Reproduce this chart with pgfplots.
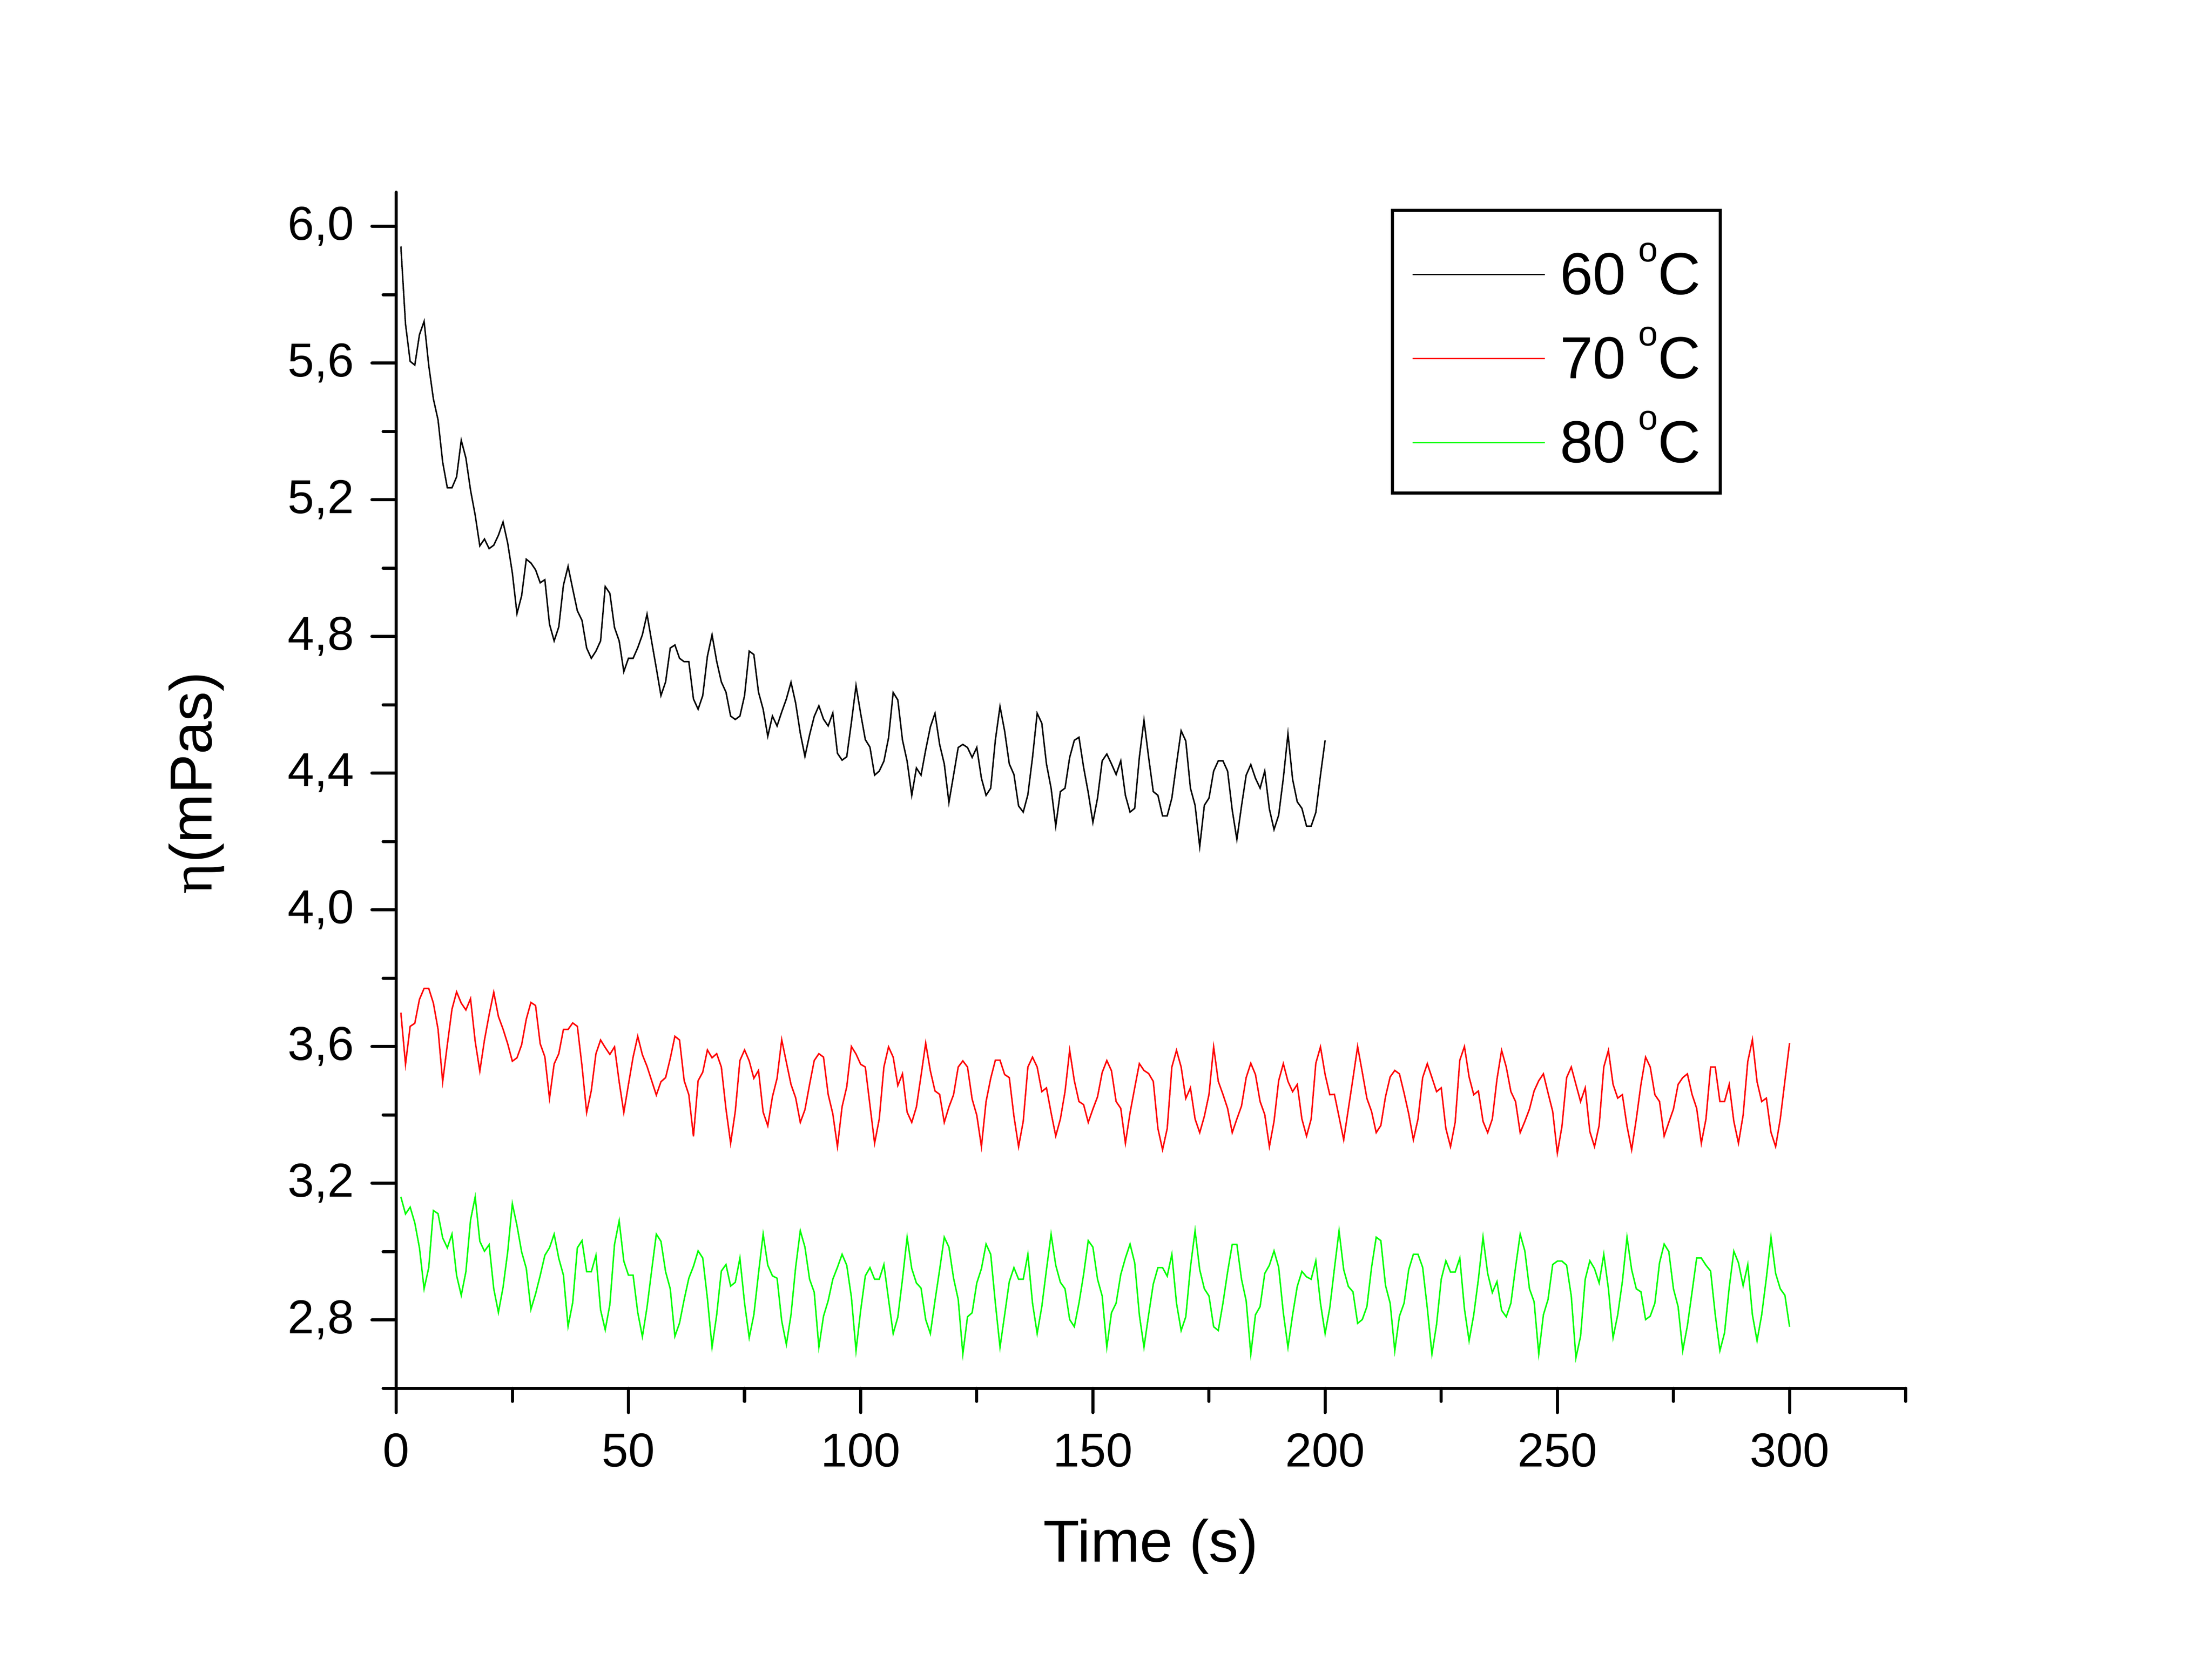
\documentclass[border=0pt]{standalone}
\usepackage{fontspec}
\setmainfont{Liberation Sans}
\newfontfamily\serifgreek{Liberation Serif}
\usepackage{pgfplots}
\pgfplotsset{compat=1.18}
\definecolor{cblack}{RGB}{0,0,0}
\definecolor{cred}{RGB}{255,0,0}
\definecolor{cgreen}{RGB}{0,255,0}
\newcommand{\degC}{\hspace{2.6pt}\raisebox{6.7pt}{\fontsize{7.2}{8}\selectfont o}C}
\begin{document}
\begin{tikzpicture}
\path[use as bounding box] (0,0) rectangle (16cm,12.048cm);
\begin{axis}[
  at={(2.866cm,2.006cm)}, anchor=south west,
  scale only axis, width=10.918cm, height=8.652cm,
  xmin=0, xmax=325, ymin=2.6, ymax=6.1,
  axis x line*=bottom, axis y line*=left,
  axis line style={line width=0.64pt, line cap=round},
  tick align=outside,
  xtick={0,50,100,150,200,250,300},
  minor xtick={25,75,125,175,225,275,325},
  ytick={2.8,3.2,3.6,4.0,4.4,4.8,5.2,5.6,6.0},
  minor ytick={2.6,3.0,3.4,3.8,4.2,4.6,5.0,5.4,5.8},
  major tick length=5pt, minor tick length=2.7pt,
  every tick/.style={line width=0.64pt, black, line cap=round},
  /pgf/number format/assume math mode=true,
  yticklabel style={/pgf/number format/fixed, /pgf/number format/fixed zerofill, /pgf/number format/precision=1, /pgf/number format/use comma, anchor=east},
  ticklabel style={font=\fontsize{9.8}{11}\selectfont, inner sep=0pt},
  xticklabel style={anchor=north},
  xticklabel shift=4.1pt,
  yticklabel shift=3.5pt,
  xlabel={Time (s)},
  xlabel style={at={(axis description cs:0.5,-0.1451)}, anchor=base, inner sep=0pt, font=\fontsize{12.2}{14}\selectfont},
  ylabel={{\serifgreek η}(mPas)},
  ylabel style={at={(axis description cs:-0.1223,0.506)}, anchor=base, inner sep=0pt, font=\fontsize{12.2}{14}\selectfont},
  legend style={at={(axis description cs:0.6589,0.9861)}, anchor=north west,
    draw=black, line width=0.64pt, inner xsep=4pt, inner ysep=6.3pt,
    row sep=6.3pt, column sep=3.0pt,
    font=\fontsize{12.2}{14}\selectfont,
    nodes={inner sep=0pt, text height=11pt, text depth=0pt}},
  legend cell align=left,
  legend image code/.code={\draw[#1] (0pt,-1.4pt) -- (27.2pt,-1.4pt);},
]
\addplot[cblack, line width=0.3pt] table {
1 5.941
2 5.714
3 5.605
4 5.594
5 5.683
6 5.722
7 5.593
8 5.495
9 5.434
10 5.310
11 5.235
12 5.235
13 5.267
14 5.374
15 5.322
16 5.228
17 5.155
18 5.065
19 5.085
20 5.057
21 5.067
22 5.096
23 5.135
24 5.073
25 4.986
26 4.867
27 4.919
28 5.026
29 5.015
30 4.995
31 4.957
32 4.966
33 4.836
34 4.787
35 4.828
36 4.950
37 5.005
38 4.939
39 4.875
40 4.847
41 4.766
42 4.736
43 4.757
44 4.787
45 4.946
46 4.926
47 4.826
48 4.787
49 4.697
50 4.736
51 4.736
52 4.767
53 4.805
54 4.865
55 4.785
56 4.707
57 4.627
58 4.667
59 4.766
60 4.775
61 4.736
62 4.726
63 4.726
64 4.617
65 4.587
66 4.627
67 4.742
68 4.805
69 4.727
70 4.667
71 4.637
72 4.567
73 4.557
74 4.567
75 4.627
76 4.757
77 4.747
78 4.637
79 4.587
80 4.508
81 4.567
82 4.538
83 4.579
84 4.617
85 4.666
86 4.605
87 4.517
88 4.449
89 4.512
90 4.566
91 4.597
92 4.558
93 4.538
94 4.576
95 4.458
96 4.438
97 4.448
98 4.548
99 4.656
100 4.574
101 4.498
102 4.476
103 4.394
104 4.406
105 4.435
106 4.503
107 4.636
108 4.614
109 4.497
110 4.435
111 4.335
112 4.415
113 4.394
114 4.468
115 4.535
116 4.575
117 4.484
118 4.427
119 4.314
120 4.394
121 4.475
122 4.484
123 4.475
124 4.446
125 4.475
126 4.385
127 4.335
128 4.356
129 4.497
130 4.595
131 4.523
132 4.427
133 4.396
134 4.304
135 4.286
136 4.337
137 4.446
138 4.575
139 4.546
140 4.427
141 4.356
142 4.245
143 4.346
144 4.356
145 4.446
146 4.496
147 4.505
148 4.417
149 4.343
150 4.256
151 4.327
152 4.436
153 4.456
154 4.427
155 4.396
156 4.436
157 4.335
158 4.286
159 4.297
160 4.446
161 4.555
162 4.446
163 4.346
164 4.335
165 4.275
166 4.275
167 4.327
168 4.427
169 4.524
170 4.494
171 4.356
172 4.306
173 4.185
174 4.306
175 4.327
176 4.406
177 4.436
178 4.436
179 4.406
180 4.292
181 4.206
182 4.304
183 4.394
184 4.425
185 4.385
186 4.356
187 4.406
188 4.295
189 4.235
190 4.277
191 4.385
192 4.515
193 4.382
194 4.316
195 4.297
196 4.245
197 4.245
198 4.285
199 4.394
200 4.496
};
\addlegendentry{60\degC}
\addplot[cred, line width=0.3pt] table {
1 3.699
2 3.548
3 3.659
4 3.668
5 3.738
6 3.770
7 3.770
8 3.727
9 3.651
10 3.497
11 3.605
12 3.709
13 3.760
14 3.727
15 3.707
16 3.740
17 3.615
18 3.528
19 3.619
20 3.693
21 3.759
22 3.688
23 3.651
24 3.608
25 3.557
26 3.567
27 3.605
28 3.680
29 3.729
30 3.720
31 3.608
32 3.570
33 3.448
34 3.549
35 3.579
36 3.650
37 3.650
38 3.669
39 3.659
40 3.543
41 3.407
42 3.471
43 3.579
44 3.619
45 3.597
46 3.577
47 3.599
48 3.497
49 3.407
50 3.489
51 3.569
52 3.630
53 3.576
54 3.542
55 3.500
56 3.458
57 3.497
58 3.509
59 3.565
60 3.630
61 3.619
62 3.500
63 3.459
64 3.337
65 3.500
66 3.525
67 3.590
68 3.567
69 3.579
70 3.540
71 3.417
72 3.317
73 3.410
74 3.559
75 3.590
76 3.558
77 3.507
78 3.530
79 3.408
80 3.368
81 3.453
82 3.507
83 3.620
84 3.554
85 3.489
86 3.450
87 3.378
88 3.415
89 3.489
90 3.559
91 3.579
92 3.569
93 3.460
94 3.403
95 3.307
96 3.424
97 3.482
98 3.600
99 3.578
100 3.548
101 3.540
102 3.428
103 3.317
104 3.388
105 3.540
106 3.599
107 3.569
108 3.486
109 3.520
110 3.408
111 3.378
112 3.423
113 3.515
114 3.610
115 3.529
116 3.470
117 3.460
118 3.378
119 3.423
120 3.459
121 3.540
122 3.558
123 3.540
124 3.446
125 3.399
126 3.307
127 3.439
128 3.507
129 3.560
130 3.560
131 3.518
132 3.509
133 3.396
134 3.307
135 3.381
136 3.540
137 3.569
138 3.540
139 3.468
140 3.479
141 3.406
142 3.338
143 3.388
144 3.468
145 3.589
146 3.500
147 3.439
148 3.430
149 3.378
150 3.417
151 3.453
152 3.524
153 3.559
154 3.529
155 3.439
156 3.419
157 3.317
158 3.406
159 3.479
160 3.550
161 3.530
162 3.521
163 3.498
164 3.360
165 3.298
166 3.360
167 3.540
168 3.589
169 3.540
170 3.448
171 3.479
172 3.388
173 3.348
174 3.396
175 3.460
176 3.599
177 3.498
178 3.460
179 3.419
180 3.348
181 3.388
182 3.426
183 3.509
184 3.551
185 3.518
186 3.439
187 3.401
188 3.307
189 3.381
190 3.500
191 3.550
192 3.498
193 3.468
194 3.489
195 3.388
196 3.338
197 3.388
198 3.551
199 3.599
200 3.518
201 3.459
202 3.460
203 3.394
204 3.327
205 3.417
206 3.507
207 3.600
208 3.525
209 3.448
210 3.410
211 3.348
212 3.369
213 3.453
214 3.511
215 3.530
216 3.520
217 3.464
218 3.403
219 3.327
220 3.388
221 3.509
222 3.550
223 3.509
224 3.468
225 3.479
226 3.360
227 3.307
228 3.378
229 3.560
230 3.600
231 3.511
232 3.459
233 3.470
234 3.381
235 3.348
236 3.388
237 3.504
238 3.589
239 3.540
240 3.468
241 3.439
242 3.348
243 3.381
244 3.417
245 3.470
246 3.500
247 3.520
248 3.464
249 3.410
250 3.288
251 3.367
252 3.509
253 3.540
254 3.489
255 3.439
256 3.479
257 3.351
258 3.307
259 3.369
260 3.540
261 3.589
262 3.489
263 3.449
264 3.459
265 3.367
266 3.298
267 3.388
268 3.489
269 3.569
270 3.540
271 3.459
272 3.439
273 3.338
274 3.378
275 3.417
276 3.489
277 3.509
278 3.520
279 3.460
280 3.419
281 3.317
282 3.388
283 3.540
284 3.540
285 3.439
286 3.439
287 3.489
288 3.381
289 3.317
290 3.399
291 3.556
292 3.620
293 3.497
294 3.439
295 3.449
296 3.349
297 3.307
298 3.388
299 3.500
300 3.610
};
\addlegendentry{70\degC}
\addplot[cgreen, line width=0.3pt] table {
1 3.160
2 3.110
3 3.130
4 3.084
5 3.011
6 2.891
7 2.953
8 3.120
9 3.111
10 3.040
11 3.011
12 3.051
13 2.930
14 2.872
15 2.941
16 3.092
17 3.160
18 3.030
19 3.001
20 3.020
21 2.891
22 2.822
23 2.895
24 2.999
25 3.140
26 3.076
27 2.999
28 2.951
29 2.831
30 2.876
31 2.930
32 2.989
33 3.011
34 3.051
35 2.980
36 2.931
37 2.781
38 2.851
39 3.011
40 3.032
41 2.941
42 2.941
43 2.989
44 2.829
45 2.771
46 2.845
47 3.021
48 3.090
49 2.972
50 2.931
51 2.931
52 2.822
53 2.751
54 2.837
55 2.945
56 3.051
57 3.030
58 2.941
59 2.891
60 2.752
61 2.791
62 2.860
63 2.922
64 2.957
65 3.002
66 2.981
67 2.863
68 2.720
69 2.815
70 2.943
71 2.962
72 2.899
73 2.910
74 2.981
75 2.849
76 2.748
77 2.815
78 2.936
79 3.051
80 2.960
81 2.929
82 2.922
83 2.797
84 2.728
85 2.815
86 2.954
87 3.061
88 3.013
89 2.919
90 2.881
91 2.720
92 2.811
93 2.856
94 2.919
95 2.954
96 2.992
97 2.960
98 2.867
99 2.710
100 2.828
101 2.929
102 2.953
103 2.919
104 2.919
105 2.962
106 2.860
107 2.760
108 2.808
109 2.919
110 3.042
111 2.950
112 2.908
113 2.893
114 2.801
115 2.760
116 2.856
117 2.947
118 3.042
119 3.013
120 2.922
121 2.860
122 2.700
123 2.809
124 2.821
125 2.908
126 2.950
127 3.022
128 2.992
129 2.849
130 2.720
131 2.815
132 2.912
133 2.953
134 2.919
135 2.919
136 2.992
137 2.849
138 2.760
139 2.839
140 2.947
141 3.051
142 2.960
143 2.910
144 2.891
145 2.801
146 2.780
147 2.849
148 2.933
149 3.032
150 3.013
151 2.919
152 2.870
153 2.720
154 2.821
155 2.849
156 2.933
157 2.981
158 3.022
159 2.967
160 2.815
161 2.720
162 2.815
163 2.905
164 2.953
165 2.953
166 2.928
167 2.992
168 2.849
169 2.769
170 2.809
171 2.954
172 3.061
173 2.947
174 2.891
175 2.870
176 2.780
177 2.769
178 2.849
179 2.940
180 3.021
181 3.021
182 2.919
183 2.856
184 2.700
185 2.815
186 2.839
187 2.936
188 2.960
189 3.002
190 2.954
191 2.821
192 2.720
193 2.815
194 2.898
195 2.942
196 2.926
197 2.919
198 2.973
199 2.849
200 2.760
201 2.835
202 2.950
203 3.061
204 2.947
205 2.898
206 2.882
207 2.790
208 2.801
209 2.839
210 2.954
211 3.042
212 3.032
213 2.901
214 2.849
215 2.710
216 2.811
217 2.849
218 2.947
219 2.992
220 2.992
221 2.954
222 2.835
223 2.700
224 2.787
225 2.919
226 2.973
227 2.940
228 2.940
229 2.981
230 2.832
231 2.739
232 2.815
233 2.919
234 3.042
235 2.936
236 2.880
237 2.912
238 2.828
239 2.809
240 2.849
241 2.954
242 3.051
243 3.002
244 2.891
245 2.853
246 2.700
247 2.815
248 2.860
249 2.962
250 2.972
251 2.972
252 2.960
253 2.870
254 2.689
255 2.752
256 2.919
257 2.973
258 2.950
259 2.908
260 2.992
261 2.891
262 2.748
263 2.815
264 2.912
265 3.042
266 2.947
267 2.891
268 2.882
269 2.801
270 2.811
271 2.849
272 2.967
273 3.022
274 3.000
275 2.891
276 2.839
277 2.710
278 2.783
279 2.881
280 2.981
281 2.981
282 2.960
283 2.943
284 2.815
285 2.710
286 2.762
287 2.894
288 3.001
289 2.967
290 2.900
291 2.962
292 2.815
293 2.739
294 2.815
295 2.922
296 3.042
297 2.936
298 2.891
299 2.872
300 2.780
};
\addlegendentry{80\degC}
\end{axis}
\end{tikzpicture}
\end{document}
